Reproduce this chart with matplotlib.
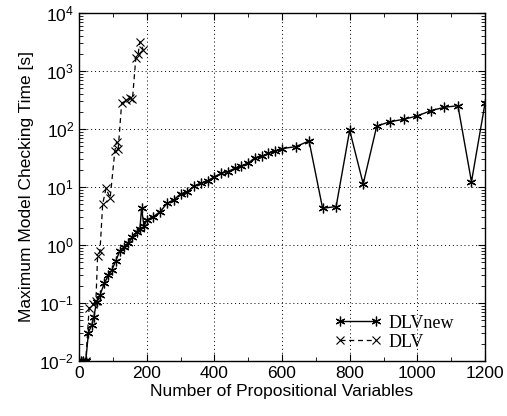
import matplotlib
matplotlib.use("Agg")
import matplotlib.pyplot as plt
from matplotlib.ticker import FixedLocator, FuncFormatter, LogLocator, NullFormatter

# DLVnew data
new_x = [5, 12, 20, 28, 38, 44, 52, 62, 75, 87, 97, 108, 121, 134, 146, 158, 170, 180,
         185, 192, 200, 220, 240, 260, 280, 300, 320, 340, 360, 380, 400, 420, 440, 460,
         480, 500, 520, 540, 560, 580, 600, 640, 680, 720, 760, 800, 840, 880, 920, 960,
         1000, 1040, 1080, 1120, 1160, 1200]
new_y = [0.01, 0.01, 0.01, 0.031, 0.042, 0.058, 0.105, 0.137, 0.22, 0.30, 0.37, 0.52,
         0.80, 0.93, 1.1, 1.35, 1.7, 1.9, 4.3, 2.1, 2.7, 3.1, 3.75, 5.2, 6.0, 7.6, 8.3,
         10.4, 11.6, 12.8, 15, 17.2, 18.4, 21, 23.3, 25.7, 32, 34, 38, 42, 46, 49.5, 62,
         4.3, 4.6, 95, 11.3, 112, 134, 147, 168, 207, 237, 252, 12.3, 277]

# DLV data
old_x = [10, 20, 30, 42, 50, 55, 62, 70, 80, 92, 106, 111, 116, 126, 139, 151, 158,
         168, 175, 180, 190]
old_y = [0.01, 0.01, 0.083, 0.096, 0.11, 0.65, 0.78, 5.1, 9.5, 6.4, 42, 60, 46, 277,
         316, 338, 324, 1700, 2000, 3200, 2300]

x_ticks = [0, 200, 400, 600, 800, 1000, 1200]
y_ticks = [1e-2, 1e-1, 1e0, 1e1, 1e2, 1e3, 1e4]

plt.rcParams['font.family'] = ['Liberation Sans', 'DejaVu Sans']
plt.rcParams['mathtext.default'] = 'regular'

fig = plt.figure(figsize=(5.07, 4.16), dpi=100)
ax = fig.add_axes([79/507, 55/416, 406/507, 348/416])

ax.plot(new_x, new_y, '-', color='black', lw=1.0, marker=(6, 2, 0), ms=7, mew=0.9,
        label='DLVnew')
ax.plot(old_x, old_y, linestyle=(0, (4, 3)), color='black', lw=0.9, marker='x', ms=6,
        mew=0.8, label='DLV')

ax.set_yscale('log')
ax.set_xlim(0, 1200)
ax.set_ylim(1e-2, 1e4)
ax.xaxis.set_major_locator(FixedLocator(x_ticks))
ax.xaxis.set_minor_locator(FixedLocator([100, 300, 500, 700, 900, 1100]))
ax.yaxis.set_major_locator(FixedLocator(y_ticks))
ax.yaxis.set_minor_locator(LogLocator(base=10, subs=range(2, 10), numticks=20))
ax.yaxis.set_minor_formatter(NullFormatter())

def yfmt(v, pos):
    import math
    e = int(round(math.log10(v)))
    return r'$10^{%d}$' % e
ax.yaxis.set_major_formatter(FuncFormatter(yfmt))

ax.tick_params(which='both', direction='in', top=True, right=True, labelsize=12.5)
ax.tick_params(which='major', length=5, width=0.8)
ax.tick_params(which='minor', length=3, width=0.6)
ax.grid(True, which='major', linestyle=(0, (1, 3)), color='black', lw=0.7)
for s in ax.spines.values():
    s.set_linewidth(1.0)

ax.set_xlabel('Number of Propositional Variables', fontsize=12.5, labelpad=2)
ax.set_ylabel('Maximum Model Checking Time [s]', fontsize=12.5, labelpad=4)

leg = ax.legend(loc='lower left', bbox_to_anchor=(0.63, 0.03), frameon=False,
                prop={'family': 'Liberation Serif', 'size': 13}, handlelength=2.6,
                handletextpad=0.4, labelspacing=0.1, borderpad=0, borderaxespad=0,
                numpoints=2)

fig.savefig('out.png', dpi=100)
